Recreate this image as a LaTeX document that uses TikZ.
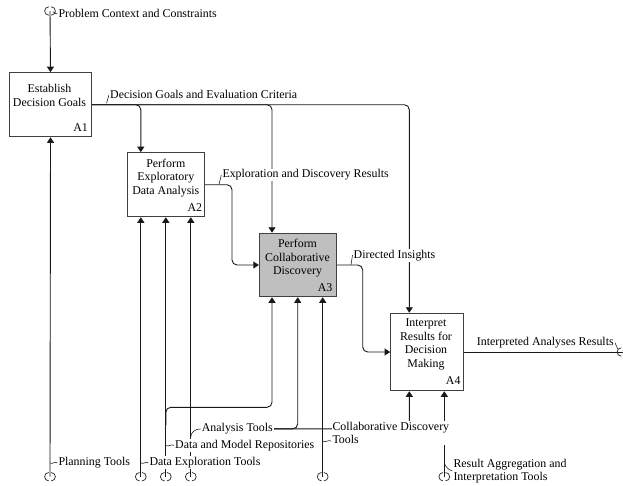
\documentclass[tikz,border=0pt]{standalone}
\usepackage{fontspec}
\setmainfont{Liberation Serif}
\usetikzlibrary{arrows.meta,backgrounds}
\begin{document}
\begin{tikzpicture}[x=1pt,y=-1pt,
  every node/.style={font=\fontsize{11.9}{13.5}\selectfont, text=black},
  fnbox/.style={draw=black!75, line width=1.1pt, fill=white, inner sep=0pt},
  fntitle/.style={align=center, inner sep=0pt, anchor=north},
  fnid/.style={inner sep=0pt, anchor=base east},
  lbl/.style={fill=white, inner sep=1pt, anchor=base west},
  lbltwo/.style={fill=white, inner sep=1pt, anchor=north west, align=left},
  conn/.style={draw=black!90, line width=0.9pt, -{Triangle[length=5.5pt,width=7pt]}},
  wire/.style={draw=black!90, line width=0.9pt},
  squig/.style={draw=black!85, line width=0.6pt},
  tun/.style={draw=black!85, line width=0.7pt},
  tunnel/.pic={
    \draw[tun] (-1.2,-4.2) arc[start angle=90, end angle=270, radius=4.2pt];
    \draw[tun] (1.2,-4.2) arc[start angle=90, end angle=-90, radius=4.2pt];
  }]

\useasboundingbox (0,0) rectangle (623,485);

% function boxes
\node[fnbox, minimum width=82pt, minimum height=64pt] (A1) at (50.5,104.7) {};
\node[fnbox, minimum width=77pt, minimum height=64pt] (A2) at (165.8,184.7) {};
\node[fnbox, fill=black!25, minimum width=76.7pt, minimum height=63.4pt] (A3) at (297.7,265) {};
\node[fnbox, minimum width=72.6pt, minimum height=77.4pt] (A4) at (427,352) {};

\node[fntitle] (A1t) at (49.5,84.5) {Establish\\Decision Goals};
\node[fntitle] (A2t) at (165.8,158.5) {Perform\\Exploratory\\Data Analysis};
\node[fntitle] (A3t) at (297.5,239.1) {Perform\\Collaborative\\Discovery};
\node[fntitle] (A4t) at (426,318.5) {Interpret\\Results for\\Decision\\Making};

\node[fnid] (A1n) at (88,131.7) {A1};
\node[fnid] (A2n) at (202.3,211) {A2};
\node[fnid] (A3n) at (332.5,291.5) {A3};
\node[fnid] (A4n) at (460.7,384) {A4};

% arrow labels
\node[lbl] (lPC) at (57.3,17.5) {Problem Context and Constraints};
\node[lbl] (lDG) at (109,98.8) {Decision Goals and Evaluation Criteria};
\node[lbl] (lER) at (221.3,177.8) {Exploration and Discovery Results};
\node[lbl] (lDI) at (352.5,258) {Directed Insights};
\node[lbl] (lIA) at (475.7,345.5) {Interpreted Analyses Results};
\node[lbl] (lPT) at (57.3,465.7) {Planning Tools};
\node[lbl] (lDE) at (148.3,465.7) {Data Exploration Tools};
\node[lbl] (lDM) at (174,448.3) {Data and Model Repositories};
\node[lbl] (lAT) at (200.7,431.7) {Analysis Tools};
\node[lbltwo] (lCD) at (331.3,421) {Collaborative Discovery\\Tools};
\node[lbltwo] (lRA) at (452.3,457.7) {Result Aggregation and\\Interpretation Tools};

% boundary tunnels and routing points
\coordinate (tPC) at (50,11);
\coordinate (tPT) at (50,476.7);
\coordinate (tDE) at (140.8,476.7);
\coordinate (tDM) at (165.8,476.7);
\coordinate (tAT) at (190.8,476.7);
\coordinate (tCD) at (322.7,476.7);
\coordinate (tRA) at (444.3,476.7);
\coordinate (tIA) at (622.5,352);
\coordinate (m23) at (232,0);
\coordinate (m34) at (362.7,0);
\coordinate (jDM) at (165.8,425);
\coordinate (kDM) at (272,407.3);

\foreach \t in {tPC,tPT,tDE,tDM,tAT,tCD,tRA,tIA} \pic at (\t) {tunnel};

\begin{pgfonlayer}{background}
  \fill[white] (0,0) rectangle (623,485);
  % control
  \draw[conn] (tPC) -- (A1.north);
  \draw[conn, rounded corners=5pt] (A1.east) -| ([xshift=-17.7pt]A4.north);
  \draw[conn, rounded corners=5pt] (A1.east) -| ([xshift=-25pt]A2.north);
  \draw[conn, rounded corners=5pt] (A1.east) -| ([xshift=-25.7pt]A3.north);
  % outputs
  \draw[conn, rounded corners=5pt] (A2.east) -| (m23 |- A3.west) -- (A3.west);
  \draw[conn, rounded corners=5pt] (A3.east) -| (m34 |- A4.west) -- (A4.west);
  \draw[wire] (A4.east) -- (tIA);
  % mechanisms
  \draw[conn] (tPT) -- (A1.south);
  \draw[conn] (tDE) -- ([xshift=-25pt]A2.south);
  \draw[conn] (tDM) -- (A2.south);
  \draw[conn] (tAT) -- ([xshift=25pt]A2.south);
  \draw[conn] (tCD) -- ([xshift=25pt]A3.south);
  \draw[conn] (tRA) -- ([xshift=17.3pt]A4.south);
  \draw[conn, rounded corners=5pt] (jDM) |- (kDM) -- ([xshift=-25.7pt]A3.south);
  \draw[conn, rounded corners=5pt] (lAT.east) -| (A3.south);
  \draw[conn, rounded corners=5pt] (lAT.east) -| ([xshift=-17.7pt]A4.south);
  % label squiggles
  \draw[squig] (lPC.west) .. controls +(-2,2) and +(2,-2) .. ++(-4.5,-1);
  \draw[squig] (lDG.west) .. controls +(-1,3) and +(1,-3) .. ++(-2.5,8.5);
  \draw[squig] (lER.west) .. controls +(-1,3) and +(1,-3) .. ++(-2.3,9.5);
  \draw[squig] (lDI.west) .. controls +(-1,3) and +(1,-3) .. ++(-1.5,9.7);
  \draw[squig] (lIA.east) .. controls +(1,3) and +(-1,-3) .. ++(3,6.5);
  \draw[squig] (lPT.west) .. controls +(-2.5,-2) and +(2.5,2) .. ++(-7.3,0);
  \draw[squig] (lDE.west) .. controls +(-2.5,-2) and +(2.5,2) .. ++(-7.5,0);
  \draw[squig] (lDM.west) .. controls +(-2.5,-2) and +(2.5,2) .. ++(-8.2,0);
  \draw[squig] (lAT.west) .. controls +(-6,0) and +(0,-4) .. ++(-9.9,8);
  \draw[squig] ([yshift=-8pt]lCD.west) .. controls +(-2.5,-2) and +(2.5,2) .. ++(-8.6,0);
  \draw[squig] (lRA.west) .. controls +(-3,-1) and +(1,4) .. ++(-8,-8);
\end{pgfonlayer}
\end{tikzpicture}
\end{document}
